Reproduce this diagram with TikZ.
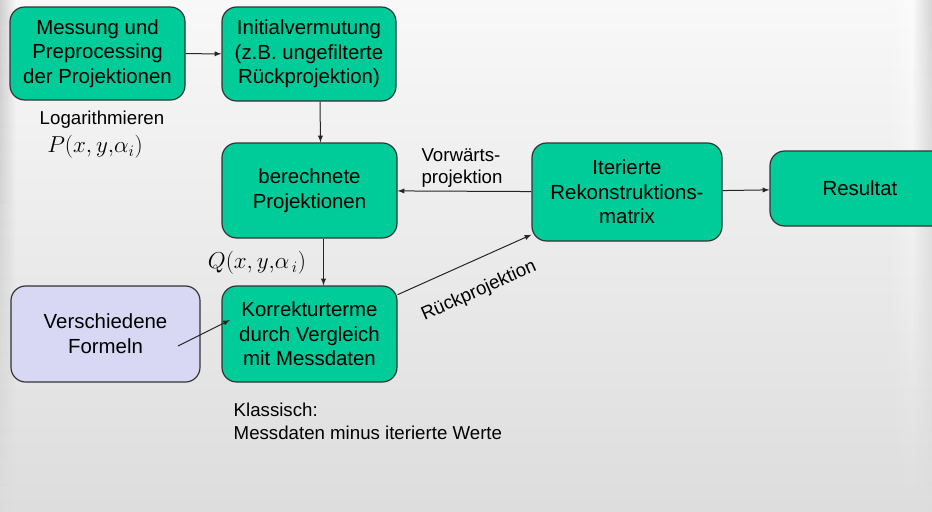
\documentclass[tikz,border=0pt]{standalone}
\usepackage{fontspec}
\setmainfont{Liberation Sans}
\usetikzlibrary{calc,fadings}

\definecolor{boxgreen}{RGB}{0,204,153}
\definecolor{boxlila}{RGB}{216,216,244}
\definecolor{bgtop}{RGB}{248,248,248}
\definecolor{bgbot}{RGB}{221,221,221}

\tikzfading[name=fadeoutright, left color=transparent!0, right color=transparent!100]
\tikzfading[name=fadeinright, left color=transparent!100, right color=transparent!0]

\begin{document}
\begin{tikzpicture}[x=0.75pt, y=-0.75pt,
    kasten/.style={draw=black!80, line width=0.9pt, fill=boxgreen, rounded corners=11pt,
        align=center, inner sep=0pt, font=\fontsize{15.3}{18.5}\selectfont},
    notiz/.style={font=\fontsize{14}{17}\selectfont},
    pfeil/.style={-latex, draw=black!85, line width=0.75pt}]
    % Hintergrund
    \clip (0,0) rectangle (932,511);
    \fill[top color=bgtop, bottom color=bgbot] (0,0) rectangle (932,511);
    \foreach \i [evaluate=\i as \dunkel using 0.16*(1-\i/20),
                 evaluate=\i as \hell using 0.85*(1-\i/20)] in {0,...,19} {
        \fill[black, opacity=\dunkel, path fading=fadeoutright] (0,\i*25.55) rectangle (16,\i*25.55+25.6);
        \fill[white, opacity=\hell, path fading=fadeinright] (888,\i*25.55) rectangle (932,\i*25.55+25.6);
        \fill[black, opacity=\dunkel, path fading=fadeinright] (912,\i*25.55) rectangle (932,\i*25.55+25.6);
    }

    % Kaesten
    \node[kasten, minimum width=131.25pt, minimum height=69.75pt] (mess) at (97.5,53.5)
        {Messung und\\Preprocessing\\der Projektionen};
    \node[kasten, minimum width=130.5pt, minimum height=70.5pt] (init) at (309,54)
        {Initialvermutung\\(z.B. ungefilterte\\Rückprojektion)};
    \node[kasten, minimum width=131.25pt, minimum height=71.25pt] (ber) at (309.5,190.5)
        {berechnete\\Projektionen};
    \node[kasten, minimum width=142.5pt, minimum height=73.5pt] (iter) at (627,192)
        {Iterierte\\Rekonstruktions-\\matrix};
    \node[kasten, minimum width=135pt, minimum height=56.25pt] (res) at (860,188.5)
        {Resultat};
    \node[kasten, minimum width=131.25pt, minimum height=72pt] (korr) at (309.5,334)
        {Korrekturterme\\durch Vergleich\\mit Messdaten};
    \node[kasten, fill=boxlila, minimum width=141.75pt, minimum height=72pt] (form) at (105.5,334)
        {Verschiedene\\Formeln};

    % Beschriftungen
    \node[notiz] (loga) at (102,120) {Logarithmieren};
    \node[font=\fontsize{17}{20}\selectfont] (pfun) at (95,147) {$P(x,y\mathord{,}\alpha_i)$};
    \node[font=\fontsize{17}{20}\selectfont] (qfun) at (257,263) {$Q(x,y\mathord{,}\alpha_{\,i})$};
    \node[notiz, align=left] (vorw) at (462,168) {Vorwärts-\\projektion};
    \node[notiz, rotate=24] (rueck) at (479,291) {Rückprojektion};
    \node[notiz, align=left, anchor=west] (klass) at (229,421)
        {Klassisch:\\Messdaten minus iterierte Werte};

    % Pfeile
    \coordinate (formaus) at (178,346);
    \coordinate (korrein) at (230,320);
    \draw[pfeil] (mess) -- (init);
    \draw[pfeil] ($(init.south)+(11,0)$) -- ($(ber.north)+(11,0)$);
    \draw[pfeil] ($(ber.south)+(14,0)$) -- ($(korr.north)+(14,0)$);
    \draw[pfeil] (iter) -- (ber);
    \draw[pfeil] (iter) -- (res);
    \draw[pfeil] (korr) -- (iter);
    \draw[pfeil] (formaus) -- (korrein);
\end{tikzpicture}
\end{document}
